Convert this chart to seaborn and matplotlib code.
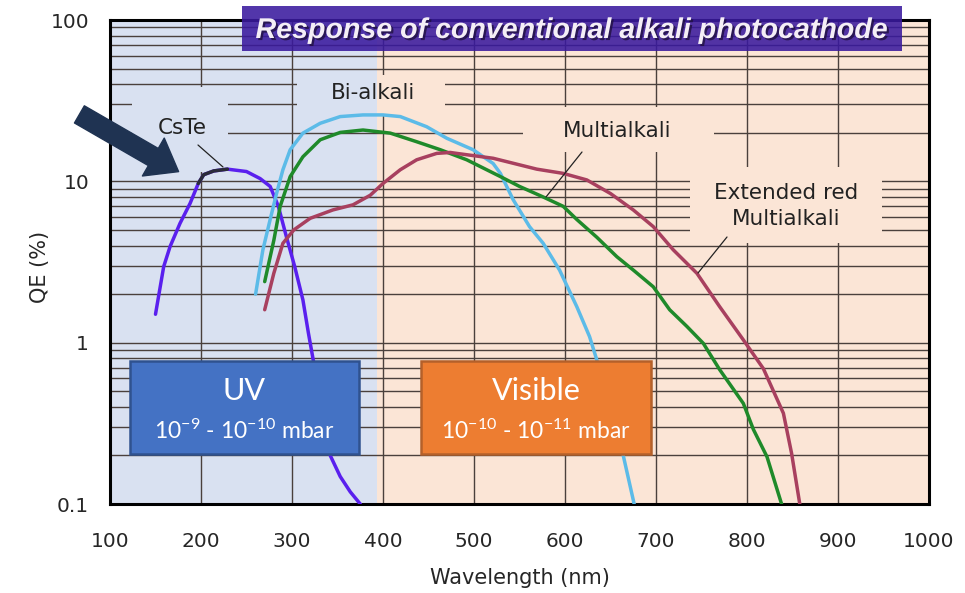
import numpy as np
import pandas as pd
import matplotlib
matplotlib.use("Agg")
import matplotlib.pyplot as plt
import seaborn as sns
from matplotlib.patches import Rectangle, FancyArrowPatch
import matplotlib.patheffects as pe
from matplotlib.ticker import LogLocator, NullFormatter, FixedLocator, FixedFormatter

# ---------------- data ----------------
cste_nm = [150, 159, 166, 177, 188, 197, 203, 214, 229, 250, 265, 276, 285, 294, 303, 312, 318, 323,
           342, 353, 364, 375]
cste_qe = [1.5, 2.96, 3.94, 5.5, 7.3, 9.7, 11.0, 11.6, 11.9, 11.5, 10.4, 9.3, 7.0, 4.5, 2.96, 1.84, 1.15, 0.8,
           0.2, 0.148, 0.119, 0.1]

bialk_nm = [260, 268, 276, 283, 290, 298, 312, 331, 353, 378, 400, 419, 448, 470, 499, 521, 529, 543,
            561, 576, 594, 613, 627, 635, 664, 676]
bialk_qe = [2.0, 3.76, 5.8, 8.4, 11.8, 15.7, 19.9, 22.9, 25.2, 25.8, 25.8, 25.2, 21.8, 18.5, 15.7, 12.9, 11.2, 7.7,
            5.24, 4.13, 2.82, 1.67, 1.09, 0.78, 0.2, 0.1]

multi_nm = [270, 280, 287, 298, 312, 331, 353, 378, 408, 437, 463, 492, 529, 550, 576, 598, 613, 635, 657,
            675, 697, 715, 734, 752, 770, 796, 807, 822, 838]
multi_qe = [2.39, 4.3, 7.0, 10.7, 14.2, 18.1, 20.1, 20.8, 19.9, 17.6, 15.7, 13.6, 10.7, 9.3, 8.0, 7.0, 5.8, 4.5, 3.41,
            2.82, 2.22, 1.6, 1.26, 0.99, 0.68, 0.42, 0.29, 0.196, 0.1]

extred_nm = [270, 280, 290, 302, 320, 345, 367, 386, 400, 419, 437, 459, 474, 481, 521, 569, 598, 624, 650,
             675, 697, 719, 745, 770, 796, 818, 840, 849, 858]
extred_qe = [1.6, 2.69, 4.13, 5.0, 5.9, 6.65, 7.15, 8.2, 9.7, 11.8, 13.6, 14.9, 15.1, 14.9, 13.9, 11.9, 11.2, 10.2, 8.4,
             6.65, 5.24, 3.76, 2.69, 1.67, 1.04, 0.69, 0.365, 0.206, 0.1]

series_names = ["CsTe", "Bi-alkali", "Multialkali", "Extended red Multialkali"]
series_colors = ["#5a20ee", "#5cbbe8", "#1f8a2a", "#a8405f"]

x_ticks = [100, 200, 300, 400, 500, 600, 700, 800, 900, 1000]
y_ticks = [0.1, 1, 10, 100]
y_tick_labels = ["0.1", "1", "10", "100"]

uv_range = (100, 393)
vis_range = (393, 1000)

# ---------------- styling ----------------
sns.set_style("white")
plt.rcParams["font.family"] = ["DejaVu Sans"]
plt.rcParams["mathtext.fontset"] = "custom"
plt.rcParams["mathtext.rm"] = "Lato"
plt.rcParams["mathtext.it"] = "Lato:italic"
plt.rcParams["mathtext.bf"] = "Lato:bold"

UV_BG = "#d9e1f1"
VIS_BG = "#fbe5d6"
GRID = "#4a403c"

W, H = 965, 593
fig = plt.figure(figsize=(W / 100, H / 100), dpi=100)
AX_L, AX_R, AX_T, AX_B = 110, 929, 20, 504
ax = fig.add_axes([AX_L / W, 1 - AX_B / H, (AX_R - AX_L) / W, (AX_B - AX_T) / H])

def fx(px):
    return (px - AX_L) / (AX_R - AX_L)

def fy(py):
    return (AX_B - py) / (AX_B - AX_T)

# background regions
ax.axvspan(*uv_range, color=UV_BG, lw=0, zorder=0)
ax.axvspan(*vis_range, color=VIS_BG, lw=0, zorder=0)

# curves
frames = []
for name, nm, qe in zip(series_names, [cste_nm, bialk_nm, multi_nm, extred_nm],
                        [cste_qe, bialk_qe, multi_qe, extred_qe]):
    frames.append(pd.DataFrame({"nm": nm, "qe": qe, "cathode": name}))
df = pd.concat(frames, ignore_index=True)

sns.lineplot(data=df, x="nm", y="qe", hue="cathode", hue_order=series_names,
             palette=dict(zip(series_names, series_colors)), estimator=None,
             sort=False, lw=2.5, legend=False, ax=ax, zorder=3)
for ln in ax.get_lines():
    ln.set_solid_joinstyle("round")
    ln.set_solid_capstyle("round")

# dark highlight on the CsTe peak
cs = df[(df.cathode == "CsTe") & (df.nm >= 197) & (df.nm <= 229)]
ax.plot(cs.nm, cs.qe, color="#2b2b3a", lw=2.5, zorder=4, solid_capstyle="round",
        solid_joinstyle="round")

ax.set_yscale("log")
ax.set_xlim(100, 1000)
ax.set_ylim(0.1, 100)
ax.xaxis.set_major_locator(FixedLocator(x_ticks))
ax.yaxis.set_major_locator(FixedLocator(y_ticks))
ax.yaxis.set_major_formatter(FixedFormatter(y_tick_labels))
ax.yaxis.set_minor_locator(LogLocator(base=10, subs=np.arange(2, 10)))
ax.yaxis.set_minor_formatter(NullFormatter())
ax.set_axisbelow(True)
ax.grid(True, which="major", axis="x", color=GRID, lw=1.0)
ax.grid(True, which="both", axis="y", color=GRID, lw=1.0)
ax.tick_params(axis="both", which="both", length=0, labelsize=14.5)
ax.tick_params(axis="x", pad=20)
ax.tick_params(axis="y", pad=15)
for s in ax.spines.values():
    s.set_visible(True)
    s.set_color("black")
    s.set_linewidth(2.2)

ax.set_xlabel("Wavelength (nm)", fontsize=15)
ax.set_ylabel("QE (%)", fontsize=15)
ax.xaxis.set_label_coords(fx(520), fy(578))
ax.xaxis.label.set_va("center")
ax.yaxis.set_label_coords(fx(40), fy(267))
ax.yaxis.label.set_va("center")
ax.yaxis.label.set_ha("center")

# gaps in grid behind labels (background coloured boxes)
BOUND_PX = AX_L + (uv_range[1] - 100) / 900 * (AX_R - AX_L)

def gap(x0, x1, y0, y1):
    if x0 < BOUND_PX:
        xe = min(x1, BOUND_PX)
        ax.add_patch(Rectangle((fx(x0), fy(y1)), fx(xe) - fx(x0), fy(y0) - fy(y1),
                               transform=ax.transAxes, color=UV_BG, lw=0, zorder=1))
    if x1 > BOUND_PX:
        xs = max(x0, BOUND_PX)
        ax.add_patch(Rectangle((fx(xs), fy(y1)), fx(x1) - fx(xs), fy(y0) - fy(y1),
                               transform=ax.transAxes, color=VIS_BG, lw=0, zorder=1))

gap(132, 228, 87, 172)
gap(297, 445, 75, 115)
gap(523, 714, 107, 152)
gap(690, 882, 167, 243)

# curve labels
lab_kw = dict(transform=ax.transAxes, ha="center", va="center", fontsize=15.5,
              color="#222222", zorder=5)
ax.text(fx(182), fy(128), "CsTe", **lab_kw)
ax.text(fx(373), fy(93), "Bi-alkali", **lab_kw)
ax.text(fx(617), fy(131), "Multialkali", **lab_kw)
ax.text(fx(786), fy(206), "Extended red\nMultialkali", linespacing=1.35, **lab_kw)

lead_kw = dict(arrowstyle="-", color="#222222", lw=0.9, shrinkA=0, shrinkB=0)
for (x0, y0), (x1, y1) in [((198, 145), (223, 167)), ((582, 152), (546, 197)),
                           ((727, 237), (698, 273))]:
    ax.annotate("", xy=(fx(x1), fy(y1)), xytext=(fx(x0), fy(y0)),
                xycoords="axes fraction", textcoords="axes fraction",
                arrowprops=lead_kw, zorder=5)

# UV and Visible boxes
def region_box(x0, x1, y0, y1, fc, ec, title, sub):
    ax.add_patch(Rectangle((fx(x0), fy(y1)), fx(x1) - fx(x0), fy(y0) - fy(y1),
                           transform=ax.transAxes, fc=fc, ec=ec, lw=1.8, zorder=6))
    cx = fx((x0 + x1) / 2)
    ax.text(cx, fy(391), title, transform=ax.transAxes, ha="center", va="center",
            fontsize=22, color="white", family="Lato", zorder=7)
    ax.text(cx, fy(431), sub, transform=ax.transAxes, ha="center", va="center",
            fontsize=16.5, color="white", family="Lato", zorder=7)

region_box(130, 359, 361, 454, "#4472c4", "#2f528f", "UV",
           r"10$^{\mathregular{-9}}$ - 10$^{\mathregular{-10}}$ mbar")
region_box(421, 651, 361, 454, "#ed7d31", "#b4602a", "Visible",
           r"10$^{\mathregular{-10}}$ - 10$^{\mathregular{-11}}$ mbar")

# title banner
fig.patches.append(Rectangle((242 / W, 1 - 51 / H), 660 / W, 45 / H,
                             transform=fig.transFigure, fc="#3a1a9e", ec="none",
                             alpha=0.88, zorder=10))
title = fig.text(572 / W, 1 - 30 / H, "Response of conventional alkali photocathode",
                 ha="center", va="center", color="#f4eef6", fontsize=18,
                 fontweight="bold", fontstyle="italic", family="Liberation Sans",
                 zorder=11,
                 path_effects=[pe.withSimplePatchShadow(offset=(1.5, -1.5),
                                                        shadow_rgbFace="#201040", alpha=0.8)])
fig.canvas.draw()
tw = title.get_window_extent().width
title.set_fontsize(18 * 632 / tw)

# big pointer arrow
fig.patches.append(FancyArrowPatch(
    (77 / W, 1 - 113 / H), (181 / W, 1 - 173 / H), transform=fig.transFigure,
    arrowstyle="simple,head_length=1.4,head_width=2.1,tail_width=0.95",
    mutation_scale=15, color="#1f3352", zorder=12))

fig.savefig("out.png", dpi=100)
